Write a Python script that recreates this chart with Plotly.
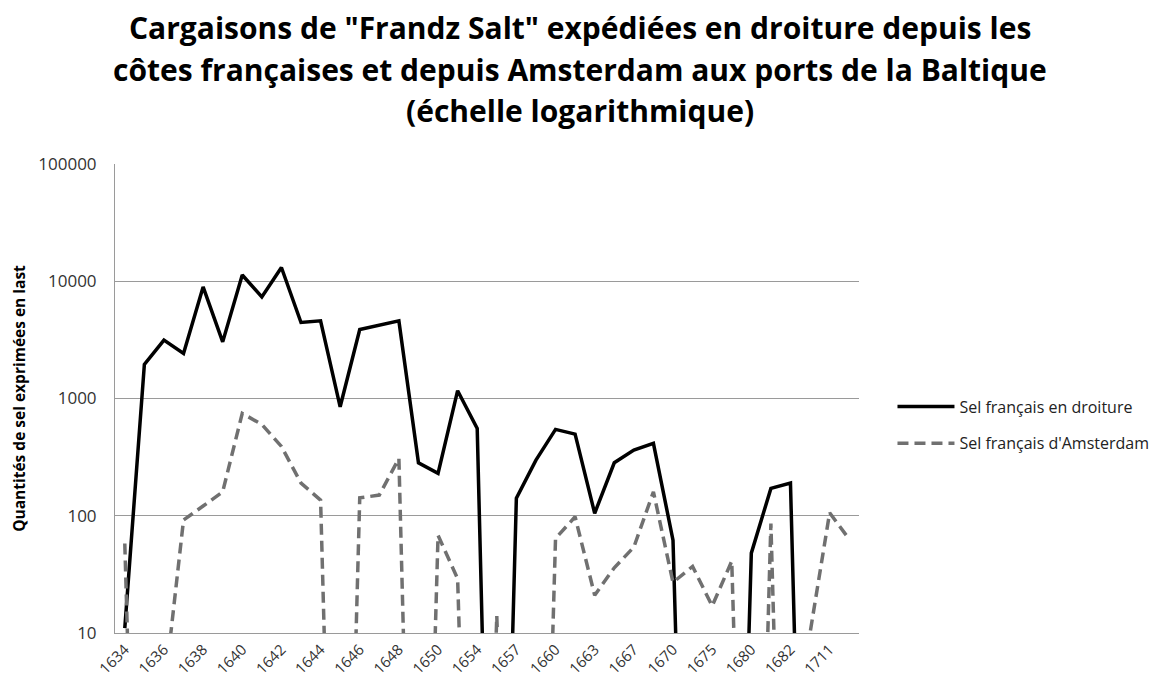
import numpy as np
import plotly.graph_objects as go

# Shipment years (every other one is labelled on the axis)
years = ["1634", "1635", "1636", "1637", "1638", "1639", "1640", "1641", "1642", "1643",
         "1644", "1645", "1646", "1647", "1648", "1649", "1650", "1653", "1654", "1656",
         "1657", "1658", "1660", "1661", "1663", "1666", "1667", "1669", "1670", "1673",
         "1675", "1677", "1680", "1681", "1682", "1685", "1711", "1714"]
labelled_years = years[::2]

# Quantities of salt, in last
sel_droiture = [11, 1950, 3150, 2420, 8950, 3040, 11300, 7350, 13100, 4450,
                4600, 850, 3870, 4230, 4590, 283, 230, 1165, 556, 0,
                141, 298, 545, 497, 105, 283, 363, 414, 62, 0,
                0, 0, 48, 171, 190, 0, 0, 0]
sel_amsterdam = [58, 0, 3, 92, 121, 160, 747, 600, 390, 190,
                 136, 0, 142, 150, 308, 0, 68, 29, 0, 14,
                 0, 0, 64, 98, 21, 36, 54, 160, 27, 37,
                 17, 41, 0, 86, 0, 10, 106, 63]

# Years with no shipment are put far below the bottom of the log axis,
# so the curves dive out of the plot area instead of breaking.
ZERO_FLOOR = 1e-4


def on_log_axis(values):
    v = np.asarray(values, dtype=float)
    return np.where(v > 0, v, ZERO_FLOOR)


FONT = "Open Sans"
fig = go.Figure()

fig.add_trace(go.Scatter(
    x=years, y=on_log_axis(sel_droiture), mode="lines",
    name="Sel français en droiture", legendgroup="a",
    line=dict(color="#000000", width=3.5),
))
fig.add_trace(go.Scatter(
    x=years, y=on_log_axis(sel_amsterdam), mode="lines",
    name="Sel français d'Amsterdam", legendgroup="b",
    line=dict(color="#707070", width=3.5, dash="11px,6px"),
))

title_lines = [
    "Cargaisons de \"Frandz Salt\" expédiées en droiture depuis les",
    "côtes françaises et depuis Amsterdam aux ports de la Baltique",
    "(échelle logarithmique)",
]
for i, line in enumerate(title_lines):
    fig.add_annotation(
        text=line, xref="paper", yref="paper", x=0.625, y=1.29 - i * 0.0875,
        xanchor="center", yanchor="middle", showarrow=False,
        font=dict(family=FONT, size=30, color="#000000", weight="bold"),
    )

fig.update_layout(
    width=1165, height=685,
    margin=dict(l=115, r=306, t=164, b=52, autoexpand=False),
    paper_bgcolor="white", plot_bgcolor="white",
    font=dict(family=FONT, color="#333333"),
    showlegend=True,
    legend=dict(
        x=1.045, y=0.4435, xanchor="left", yanchor="middle",
        font=dict(family=FONT, size=16, color="#222222"),
        itemwidth=57, traceorder="grouped", tracegroupgap=13,
        bgcolor="rgba(0,0,0,0)",
    ),
)

fig.update_xaxes(
    type="category", range=[-0.5, len(years) - 0.5],
    tickmode="array", tickvals=labelled_years, ticktext=labelled_years,
    tickangle=-45, tickfont=dict(family=FONT, size=15, color="#333333"),
    ticklabelstandoff=1,
    showgrid=False, showline=True, linecolor="#9a9a9a", linewidth=1,
    ticks="", automargin=False, zeroline=False,
)
fig.update_yaxes(
    type="log", range=[1, 5],
    tickmode="array", tickvals=[10, 100, 1000, 10000, 100000],
    ticktext=["10", "100", "1000", "10000", "100000"],
    tickfont=dict(family=FONT, size=17, color="#333333"),
    showgrid=True, gridcolor="#9a9a9a", gridwidth=1,
    showline=True, linecolor="#9a9a9a", linewidth=1,
    ticks="", ticklabelstandoff=14, automargin=False,
    title=dict(text="Quantités de sel exprimées en last", standoff=8,
               font=dict(family=FONT, size=15.5, color="#000000", weight="bold")),
)

fig.write_html("out.html")
